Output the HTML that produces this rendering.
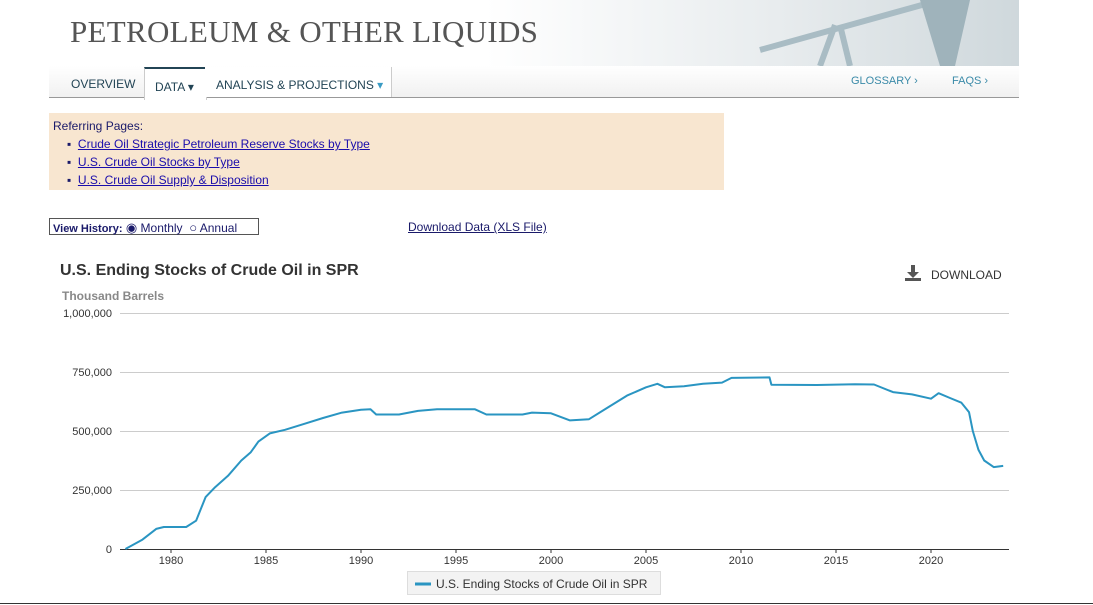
<!DOCTYPE html>
<html><head><meta charset="utf-8"><style>
body{margin:0;width:1093px;height:605px;background:#fff;font-family:"Liberation Sans",sans-serif;position:relative;overflow:hidden}
.a{position:absolute}
a{color:#1a0dab}
</style></head><body>
<div class="a" style="left:49px;top:0;width:970px;height:66px;background:linear-gradient(90deg,#fff 0%,#fff 45%,#e8ecee 75%,#cfd8dc 100%)"></div>
<svg class="a" style="left:740px;top:0" width="279" height="66"><g stroke="#a9bcc4" fill="none" stroke-width="6"><line x1="20" y1="50" x2="200" y2="0"/><line x1="80" y1="66" x2="95" y2="25"/><line x1="110" y1="66" x2="100" y2="25"/></g><path d="M180 0 L230 0 L215 66 L200 66 Z" fill="#9fb3bb"/></svg>
<div class="a" style="left:70px;top:14px;font-family:'Liberation Serif',serif;font-size:31px;letter-spacing:0.3px;color:#555">PETROLEUM &amp; OTHER LIQUIDS</div>
<div class="a" style="left:49px;top:66px;width:970px;height:31px;background:linear-gradient(#fff,#f1f1f1);border-bottom:1px solid #999"></div>
<div class="a" style="left:71px;top:77px;font-size:12px;color:#245">OVERVIEW</div>
<div class="a" style="left:144px;top:67px;width:61px;height:31px;background:#fff;border-top:2px solid #245;border-left:1px solid #ccc;border-right:1px solid #ccc"></div>
<div class="a" style="left:155px;top:80px;font-size:12px;color:#245">DATA ▾</div>
<div class="a" style="left:205px;top:67px;width:186px;height:30px;background:#fff;border-right:1px solid #ccc"></div>
<div class="a" style="left:216px;top:78px;font-size:12px;color:#245">ANALYSIS &amp; PROJECTIONS <span style="color:#3a9bc4">▾</span></div>
<div class="a" style="left:851px;top:75px;font-size:11px;color:#3a8aa8">GLOSSARY ›</div>
<div class="a" style="left:952px;top:75px;font-size:11px;color:#3a8aa8">FAQS ›</div>
<div class="a" style="left:49px;top:113px;width:675px;height:77px;background:#f8e6d0"></div>
<div class="a" style="left:53px;top:117px;font-size:12px;color:#1a1a6a;line-height:18px">Referring Pages:<br>
<span style="margin-left:14px">▪&nbsp;&nbsp;<a href="#">Crude Oil Strategic Petroleum Reserve Stocks by Type</a></span><br>
<span style="margin-left:14px">▪&nbsp;&nbsp;<a href="#">U.S. Crude Oil Stocks by Type</a></span><br>
<span style="margin-left:14px">▪&nbsp;&nbsp;<a href="#">U.S. Crude Oil Supply &amp; Disposition</a></span></div>
<div class="a" style="left:49px;top:218px;width:210px;height:17px;border:1px solid #555;font-size:12px;color:#1a1a6a;line-height:17px;padding-left:3px;box-sizing:border-box"><b style="font-size:11px">View History:</b> <span style="font-size:13px">◉</span> Monthly &nbsp;<span style="font-size:13px">○</span> Annual</div>
<div class="a" style="left:408px;top:220px;font-size:12px"><a href="#" style="color:#1a1a6a">Download Data (XLS File)</a></div>
<div class="a" style="left:60px;top:262px;font-size:16px;font-weight:bold;color:#333">U.S. Ending Stocks of Crude Oil in SPR</div>
<div class="a" style="left:62px;top:289px;font-size:12px;font-weight:bold;color:#888">Thousand Barrels</div>
<svg class="a" style="left:905px;top:265px" width="16" height="16"><rect x="6" y="0" width="4" height="8" fill="#555"/><path d="M2 7 L14 7 L8 13 Z" fill="#555"/><rect x="0" y="13" width="16" height="3" fill="#555"/></svg>
<div class="a" style="left:931px;top:268px;font-size:12px;color:#333">DOWNLOAD</div>
<svg class="a" style="left:0;top:0" width="1093" height="605">
<g stroke="#ccc" stroke-width="1"><line x1="120" y1="313.5" x2="1009" y2="313.5"/><line x1="120" y1="372.5" x2="1009" y2="372.5"/><line x1="120" y1="431.5" x2="1009" y2="431.5"/><line x1="120" y1="490.5" x2="1009" y2="490.5"/></g>
<line x1="120" y1="549.5" x2="1009" y2="549.5" stroke="#333"/>
<g font-size="11" fill="#333" text-anchor="end"><text x="112" y="317">1,000,000</text><text x="112" y="376">750,000</text><text x="112" y="435">500,000</text><text x="112" y="494">250,000</text><text x="112" y="553">0</text></g>
<g font-size="11" fill="#333" text-anchor="middle"><text x="171" y="564">1980</text><text x="266" y="564">1985</text><text x="361" y="564">1990</text><text x="456" y="564">1995</text><text x="551" y="564">2000</text><text x="646" y="564">2005</text><text x="741" y="564">2010</text><text x="836" y="564">2015</text><text x="931" y="564">2020</text></g>
<g stroke="#333"><line x1="171" y1="549" x2="171" y2="553"/><line x1="266" y1="549" x2="266" y2="553"/><line x1="361" y1="549" x2="361" y2="553"/><line x1="456" y1="549" x2="456" y2="553"/><line x1="551" y1="549" x2="551" y2="553"/><line x1="646" y1="549" x2="646" y2="553"/><line x1="741" y1="549" x2="741" y2="553"/><line x1="836" y1="549" x2="836" y2="553"/><line x1="931" y1="549" x2="931" y2="553"/></g>
<polyline fill="none" stroke="#2a95c2" stroke-width="2" stroke-linejoin="round" points="125.4,549 142.5,539.6 156.2,528.9 163.8,527 186.2,527 196.1,520.7 205.6,497.1 215.1,487.2 228,475.8 241.3,460.5 250.8,452.2 258.4,441.6 269.8,433.4 285,429.8 304,423.9 323,418 342,412.6 361,409.8 370.5,409.3 376.2,414.5 399,414.5 418,410.9 437,409.3 475,409.3 486.4,414.5 522.5,414.5 532,412.6 551,413.3 570,420.4 589,419.2 608,407.4 627,395.6 646,387.3 657.4,383.8 665,387.3 684,386.2 703,383.8 722,382.6 731.5,377.9 769.5,377.4 771.4,384.7 817,385 855,384.3 874,384.5 893,392.1 912,394.4 931,398.7 938.6,393.2 950,398 961.4,402.7 969,412.1 972.8,431 978.5,449.9 984.2,460.5 993.7,467.1 1003.2,465.9"/>
<rect x="407.5" y="571.5" width="253" height="23" fill="#f3f3f3" stroke="#ddd"/>
<line x1="415" y1="584" x2="431" y2="584" stroke="#2a95c2" stroke-width="3"/>
<text x="436" y="588" font-size="12" fill="#333">U.S. Ending Stocks of Crude Oil in SPR</text>
<line x1="0" y1="603.5" x2="1093" y2="603.5" stroke="#333"/>
</svg>
</body></html>
